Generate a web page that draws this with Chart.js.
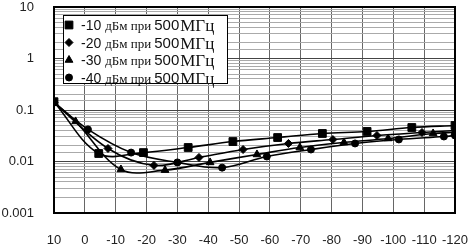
<!DOCTYPE html>
<html>
<head>
<meta charset="utf-8">
<script src="https://cdn.jsdelivr.net/npm/chart.js@4/dist/chart.umd.min.js"></script>
<style>
	html, body { margin: 0; padding: 0; background: #fff; }
</style>
</head>
<body>
<canvas id="myChart" width="469" height="246"></canvas>
<script>
// values (x in dBm, y on log scale)
let legendLevels = ['-10', '-20', '-30', '-40'];
let legendMid = 'дБм при';
let legendFreq = '500';
let legendUnit = 'МГц';

let xTickValues = [10, 0, -10, -20, -30, -40, -50, -60, -70, -80, -90, -100, -110, -120];
let yTickValues = [10, 1, 0.1, 0.01, 0.001];

let sqX = [10, -4.5, -19, -33.5, -48, -62.5, -77, -91.5, -106, -120];
let sqY = [0.145, 0.0143, 0.0149, 0.0187, 0.0244, 0.0292, 0.035, 0.0383, 0.0457, 0.05];

let diaX = [10, -7.5, -22.4, -37, -51.3, -66, -80.4, -94.7, -109.3, -120];
let diaY = [0.14, 0.0179, 0.0084, 0.012, 0.0171, 0.0224, 0.0267, 0.032, 0.0366, 0.04];

let triX = [10, 3, -11.7, -26, -40.6, -55.8, -69.7, -84, -98.3, -112.9, -120];
let triY = [0.14, 0.06, 0.007, 0.0068, 0.0096, 0.0137, 0.0187, 0.0234, 0.028, 0.035, 0.037];

let cirX = [10, -1, -15, -30, -44.5, -59, -73.3, -87.6, -101.8, -116.4, -120];
let cirY = [0.14, 0.042, 0.0149, 0.0096, 0.0076, 0.0125, 0.0171, 0.0224, 0.0268, 0.0306, 0.032];

function pts(xs, ys) {
	let out = [];
	for (let i = 0; i < xs.length; i++) out.push({x: xs[i], y: ys[i]});
	return out;
}

function series(label, xs, ys, style, radius) {
	return {
		label: label,
		data: pts(xs, ys),
		borderColor: '#000',
		backgroundColor: '#000',
		borderWidth: 1.6,
		pointStyle: style,
		pointRadius: radius,
		pointHoverRadius: radius,
		pointBackgroundColor: '#000',
		pointBorderColor: '#000',
		pointBorderWidth: 1,
		tension: 0.35,
		fill: false
	};
}

const isDecade = v => Math.abs(Math.log10(v) - Math.round(Math.log10(v))) < 1e-6;

// legend drawn inside the plot, with the mixed fonts of the original
const insideLegend = {
	id: 'insideLegend',
	afterDatasetsDraw(chart) {
		const ctx = chart.ctx;
		const a = chart.chartArea;
		const bx = a.left + 9, by = a.top + 8, bw = 164, bh = 68;
		ctx.save();
		ctx.fillStyle = '#fff';
		ctx.fillRect(bx, by, bw, bh);
		ctx.strokeStyle = '#000';
		ctx.lineWidth = 1;
		ctx.strokeRect(bx + 0.5, by + 0.5, bw, bh);
		chart.data.datasets.forEach((ds, i) => {
			const y = by + 10 + i * 17.5;
			ctx.fillStyle = '#000';
			ctx.strokeStyle = '#000';
			Chart.helpers.drawPoint(ctx, {pointStyle: ds.pointStyle, radius: ds.pointRadius, borderWidth: 1, rotation: 0}, bx + 6, y);
			let x = bx + 18;
			const base = y + 5;
			ctx.textBaseline = 'alphabetic';
			ctx.textAlign = 'left';
			ctx.fillStyle = '#111';
			ctx.font = '14px "Liberation Sans", Arial, sans-serif';
			ctx.fillText(legendLevels[i], x, base);
			x += ctx.measureText(legendLevels[i]).width + 4;
			ctx.font = '13px "Liberation Serif", "Times New Roman", serif';
			ctx.fillText(legendMid, x, base);
			x += ctx.measureText(legendMid).width + 3;
			ctx.font = '15px "Liberation Sans", Arial, sans-serif';
			ctx.fillText(legendFreq, x, base);
			x += ctx.measureText(legendFreq).width + 1;
			ctx.font = '17px "Liberation Serif", "Times New Roman", serif';
			ctx.fillText(legendUnit, x, base + 1);
		});
		ctx.restore();
	}
};

// heavy frame round the plot
const plotFrame = {
	id: 'plotFrame',
	afterDraw(chart) {
		const a = chart.chartArea;
		const ctx = chart.ctx;
		ctx.save();
		ctx.strokeStyle = '#000';
		ctx.lineWidth = 2;
		ctx.strokeRect(a.left, a.top, a.right - a.left, a.bottom - a.top);
		ctx.restore();
	}
};

var ctx = document.getElementById('myChart').getContext('2d');
var myChart = new Chart(ctx, {
	type: 'line',
	data: {
		datasets: [
			series(legendLevels[0], sqX, sqY, 'rect', 5.5),
			series(legendLevels[1], diaX, diaY, 'rectRot', 4),
			series(legendLevels[2], triX, triY, 'triangle', 4.5),
			series(legendLevels[3], cirX, cirY, 'circle', 3.5)
		]
	},
	options: {
		responsive: false,
		animation: false,
		devicePixelRatio: 1,
		layout: { padding: { left: 0, top: 7, right: 14, bottom: 0 } },
		plugins: {
			legend: { display: false },
			tooltip: { enabled: false }
		},
		scales: {
			x: {
				type: 'linear',
				reverse: true,
				min: -120,
				max: 10,
				afterBuildTicks: s => { s.ticks = xTickValues.map(v => ({value: v})); },
				afterFit: s => { s.height = 33; s.paddingLeft = 0; s.paddingRight = 0; },
				border: { display: false },
				grid: { color: '#666', lineWidth: 1, drawTicks: false },
				ticks: {
					padding: 20,
					color: '#222',
					maxRotation: 0,
					autoSkip: false,
					font: { family: '"Liberation Sans", Arial, sans-serif', size: 13 },
					callback: v => String(v)
				}
			},
			y: {
				type: 'logarithmic',
				min: 0.001,
				max: 10,
				afterFit: s => { s.width = 54; s.paddingTop = 0; s.paddingBottom = 0; },
				border: { display: false },
				grid: {
					drawTicks: false,
					color: c => (c.tick && isDecade(c.tick.value)) ? '#444' : '#aaa',
					lineWidth: 1
				},
				ticks: {
					padding: 20,
					color: '#222',
					autoSkip: false,
					font: { family: '"Liberation Sans", Arial, sans-serif', size: 13 },
					callback: v => yTickValues.find(t => Math.abs(t - v) < t * 1e-6) !== undefined ? String(v) : ''
				}
			}
		}
	},
	plugins: [insideLegend, plotFrame]
});
</script>
</body>
</html>
